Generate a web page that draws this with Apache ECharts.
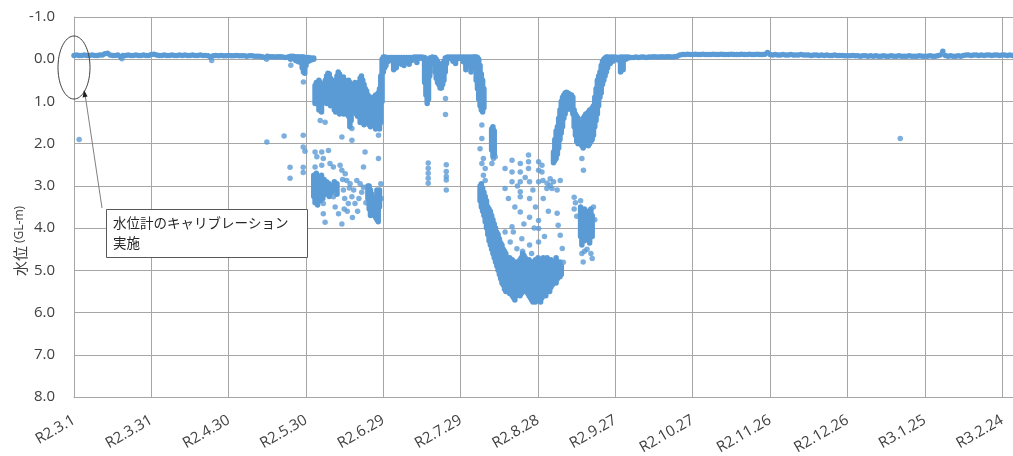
<!DOCTYPE html>
<html>
<head>
<meta charset="utf-8">
<script src="https://cdn.jsdelivr.net/npm/echarts@6.0.0/dist/echarts.min.js"></script>
<style>
  html, body { margin: 0; padding: 0; background: #ffffff; }
  #chart { width: 1013px; height: 456px; }
</style>
</head>
<body>
<div id="chart"></div>
<script>
// Groundwater level (GL-m) readings, R2.3.1 – R3.3.1.
// x = days elapsed since R2.3.1, y = depth below ground level (m).

const xTickLabels = ['R2.3.1', 'R2.3.31', 'R2.4.30', 'R2.5.30', 'R2.6.29', 'R2.7.29',
  'R2.8.28', 'R2.9.27', 'R2.10.27', 'R2.11.26', 'R2.12.26', 'R3.1.25', 'R3.2.24'];

// Daily level, day 0 .. day 83 (steady period)
const springLevel = [
  -0.09, -0.10, -0.09, -0.09, -0.10, -0.09, -0.09, -0.10, -0.09, -0.09,
  -0.10, -0.10, -0.13, -0.14, -0.10, -0.09, -0.09, -0.10, -0.06, -0.09,
  -0.09, -0.10, -0.09, -0.09, -0.10, -0.09, -0.09, -0.10, -0.09, -0.09,
  -0.11, -0.12, -0.10, -0.09, -0.09, -0.10, -0.09, -0.09, -0.10, -0.09,
  -0.09, -0.10, -0.09, -0.10, -0.09, -0.09, -0.10, -0.09, -0.09, -0.10,
  -0.09, -0.09, -0.08, -0.05, -0.08, -0.09, -0.08, -0.09, -0.08, -0.08,
  -0.09, -0.08, -0.08, -0.09, -0.08, -0.08, -0.08, -0.07, -0.08, -0.08,
  -0.07, -0.07, -0.07, -0.06, -0.04, -0.07, -0.06, -0.06, -0.05, -0.06,
  -0.06, -0.05, -0.04, -0.05
];

// Daily level, day 216 .. day 365 (recovered period)
const autumnLevel = [
  -0.04, -0.04, -0.05, -0.04, -0.05, -0.05, -0.04, -0.05, -0.05, -0.06,
  -0.05, -0.05, -0.06, -0.05, -0.06, -0.06, -0.05, -0.06, -0.07,
  -0.10, -0.11, -0.11, -0.12, -0.11, -0.11, -0.12, -0.11, -0.11, -0.12,
  -0.11, -0.11, -0.11, -0.12, -0.11, -0.11, -0.12, -0.11, -0.11, -0.11,
  -0.12, -0.11, -0.11, -0.11, -0.12, -0.11, -0.11, -0.12, -0.11, -0.11,
  -0.12, -0.11, -0.11, -0.12, -0.16,
  -0.11, -0.10, -0.11, -0.10, -0.10, -0.11, -0.10, -0.10, -0.11, -0.10,
  -0.10, -0.10, -0.11, -0.10, -0.10, -0.10, -0.09, -0.10, -0.10, -0.09,
  -0.10, -0.09, -0.10, -0.09, -0.09, -0.10, -0.09, -0.09, -0.09, -0.08,
  -0.08, -0.08, -0.09, -0.08, -0.08, -0.07, -0.08, -0.08, -0.07, -0.08,
  -0.07, -0.08, -0.07, -0.07, -0.08, -0.07, -0.07, -0.08, -0.07, -0.07,
  -0.08, -0.07, -0.07, -0.07, -0.08, -0.07, -0.07, -0.07, -0.08, -0.07,
  -0.07, -0.07, -0.08, -0.07, -0.07, -0.08, -0.10, -0.19, -0.09, -0.07,
  -0.08, -0.07, -0.07, -0.08, -0.07,
  -0.09, -0.10, -0.10, -0.09, -0.10, -0.10, -0.09, -0.10, -0.09, -0.10,
  -0.10, -0.09, -0.10, -0.10, -0.09, -0.10, -0.10, -0.09, -0.10, -0.09, -0.10
];
const autumnStartDay = 216;

// Dense reading bands: [day, shallowest, deepest]
const lateMayBand = [
  [84, -0.07, 0.00], [85, -0.07, -0.02], [86, -0.06, 0.03], [87, -0.06, 0.06],
  [88, -0.05, 0.08], [88.5, -0.05, 0.20], [89, -0.05, 0.30], [89.5, -0.04, 0.33],
  [90, -0.04, 0.15], [91, -0.04, 0.05], [92, -0.03, 0.02], [93, -0.03, 0.00]
];

const juneBand = [
  [93.5, 0.62, 1.05], [94, 0.55, 1.00], [94.5, 0.70, 1.05], [95, 0.50, 1.20],
  [95.5, 0.55, 1.10], [96, 0.70, 1.25], [96.5, 0.65, 1.00], [97, 0.60, 1.00],
  [97.5, 0.50, 1.00], [98, 0.40, 1.05], [98.5, 0.33, 1.00], [99, 0.35, 1.05],
  [99.5, 0.45, 1.10], [100, 0.50, 0.95], [100.5, 0.60, 1.10], [101, 0.55, 1.20],
  [101.5, 0.50, 1.25], [102, 0.40, 1.10], [102.5, 0.30, 1.20], [103, 0.35, 1.30],
  [103.5, 0.45, 1.25], [104, 0.50, 1.20], [104.5, 0.42, 1.30], [105, 0.50, 1.15],
  [105.5, 0.60, 1.30], [106, 0.70, 1.25], [106.5, 0.50, 1.35], [107, 0.55, 1.60],
  [107.5, 0.65, 1.45], [108, 0.75, 1.20], [108.5, 0.60, 1.10], [109, 0.55, 1.15],
  [109.5, 0.60, 1.30], [110, 0.70, 1.35], [110.5, 0.55, 1.20], [111, 0.45, 1.50],
  [111.5, 0.40, 1.45], [112, 0.50, 1.40], [112.5, 0.60, 1.55], [113, 0.70, 1.35],
  [113.5, 0.75, 1.30], [114, 0.85, 1.50], [114.5, 0.95, 1.55], [115, 0.90, 1.60],
  [115.5, 1.00, 1.55], [116, 0.90, 1.45], [116.5, 1.00, 1.50], [117, 0.85, 1.65],
  [117.5, 0.95, 1.60], [118, 0.80, 1.55], [118.5, 0.70, 1.65], [119, 0.40, 1.50],
  [119.5, 0.00, 1.00]
];

const juneDeepBand = [
  [93, 2.75, 3.25], [93.5, 2.80, 3.40], [94, 2.70, 3.30], [94.5, 2.85, 3.45],
  [95, 2.80, 3.25], [95.5, 2.90, 3.35], [96, 2.75, 3.20], [96.5, 2.90, 3.30],
  [97, 2.85, 3.15], [97.5, 2.95, 3.20], [98, 2.90, 3.10], [99, 2.95, 3.25],
  [100, 3.00, 3.15], [101, 2.90, 3.10], [102, 2.95, 3.20],
  [114, 3.00, 3.30], [114.5, 3.00, 3.55], [115, 3.10, 3.70], [115.5, 3.20, 3.60],
  [116, 3.30, 3.65], [116.5, 3.30, 3.70], [117, 3.40, 3.75], [117.5, 3.10, 3.80],
  [118, 3.20, 3.85], [118.5, 3.10, 3.50]
];

const julyBand = [
  [120, -0.05, 0.30], [120.5, -0.05, 0.20], [121, -0.04, 0.15], [122, -0.04, 0.05],
  [123, -0.04, -0.02], [124, -0.04, 0.25], [125, -0.04, 0.20], [126, -0.04, 0.02],
  [127, -0.04, 0.12], [128, -0.04, 0.15], [129, -0.04, 0.08], [130, -0.04, 0.12],
  [131, -0.04, 0.03], [132, -0.05, -0.03], [133, -0.05, 0.08], [134, -0.05, -0.03],
  [135, -0.05, -0.02], [136, -0.04, 0.55], [136.5, 0.00, 0.85], [137, 0.05, 1.05],
  [137.5, 0.10, 0.95], [138, -0.03, 0.40], [139, -0.05, 0.10], [140, -0.04, 0.30],
  [140.5, 0.00, 0.45], [141, 0.05, 0.55], [141.5, 0.10, 0.60], [142, 0.15, 0.68],
  [142.5, 0.15, 0.68], [143, 0.10, 0.60], [143.5, 0.05, 0.50], [144, -0.03, 0.30],
  [144.5, -0.04, 0.10], [145, -0.05, -0.02], [146, -0.05, -0.02], [147, -0.05, 0.05],
  [148, -0.05, 0.10], [149, -0.05, -0.02], [150, -0.05, -0.02], [151, -0.05, 0.06],
  [152, -0.05, 0.25], [153, -0.05, 0.15]
];

const augustBand = [
  [154, -0.05, 0.30], [155, -0.05, 0.10], [155.5, -0.05, 0.20], [156, -0.05, 0.50],
  [156.5, -0.04, 0.70], [157, 0.00, 0.95], [157.5, 0.15, 1.10], [158, 0.35, 1.20],
  [158.5, 0.50, 1.25], [159, 0.70, 1.15],
  [157.5, 3.00, 3.35], [158, 2.95, 3.50], [158.5, 3.05, 3.60], [159, 3.15, 3.70],
  [159.5, 3.25, 3.85], [160, 3.35, 4.00], [160.5, 3.50, 4.15], [161, 3.55, 4.30],
  [161.5, 3.60, 4.40], [162, 3.70, 4.50], [162.5, 3.80, 4.60], [163, 3.90, 4.70],
  [163.5, 4.00, 4.80], [164, 4.10, 4.90], [164.5, 4.15, 5.00], [165, 4.25, 5.10],
  [165.5, 4.35, 5.20], [166, 4.40, 5.30], [166.5, 4.50, 5.35], [167, 4.55, 5.45],
  [167.5, 4.60, 5.50],
  [162, 1.65, 2.15], [162.5, 1.60, 2.30], [163, 1.70, 2.25],
  [168, 4.70, 5.50], [168.5, 4.75, 5.45], [169, 4.70, 5.55], [169.5, 4.80, 5.50],
  [170, 4.75, 5.60], [170.5, 4.80, 5.65], [171, 4.85, 5.70], [171.5, 4.80, 5.60],
  [172, 4.85, 5.55], [172.5, 4.80, 5.50], [173, 4.75, 5.60], [173.5, 4.70, 5.55],
  [174, 4.60, 5.45], [174.5, 4.65, 5.50], [175, 4.70, 5.40], [175.5, 4.75, 5.50],
  [176, 4.80, 5.55], [176.5, 4.75, 5.60], [177, 4.80, 5.65], [177.5, 4.85, 5.70],
  [178, 4.80, 5.75], [178.5, 4.80, 5.70], [179, 4.75, 5.75], [179.5, 4.80, 5.70],
  [180, 4.70, 5.65], [180.5, 4.75, 5.70], [181, 4.80, 5.75], [181.5, 4.75, 5.65],
  [182, 4.70, 5.60], [182.5, 4.80, 5.55], [183, 4.75, 5.60], [183.5, 4.70, 5.50],
  [184, 4.75, 5.45], [184.5, 4.80, 5.50], [185, 4.75, 5.40], [185.5, 4.80, 5.35],
  [186, 4.90, 5.30], [186.5, 4.85, 5.25], [187, 4.70, 5.30], [187.5, 4.80, 5.20],
  [188, 4.90, 5.10], [188.5, 4.80, 5.15], [189, 4.90, 5.10]
];

const septemberBand = [
  [186, 2.20, 2.45], [186.5, 1.90, 2.40], [187, 1.70, 2.35], [187.5, 1.60, 2.25],
  [188, 1.40, 2.10], [188.5, 1.20, 1.90], [189, 1.00, 1.75], [189.5, 0.90, 1.60],
  [190, 0.85, 1.40], [190.5, 0.80, 1.30], [191, 0.78, 1.20], [191.5, 0.80, 1.10],
  [192, 0.82, 1.15], [192.5, 0.85, 1.10], [193, 0.85, 1.20], [193.5, 0.90, 1.30],
  [194, 1.20, 1.60], [194.5, 1.30, 1.80], [195, 1.35, 1.95], [195.5, 1.40, 2.00],
  [196, 1.50, 1.90], [196.5, 1.60, 2.00], [197, 1.55, 2.05], [197.5, 1.40, 2.10],
  [198, 1.35, 2.05], [198.5, 1.30, 2.00], [199, 1.30, 1.95], [199.5, 1.25, 2.05],
  [200, 1.20, 2.00], [200.5, 1.25, 1.95], [201, 1.15, 1.90], [201.5, 1.10, 1.80],
  [202, 0.90, 1.60], [202.5, 0.70, 1.45], [203, 0.50, 1.30], [203.5, 0.40, 1.10],
  [204, 0.30, 0.90], [204.5, 0.15, 0.80], [205, 0.05, 0.60], [205.5, 0.00, 0.50],
  [206, -0.03, 0.40], [206.5, -0.05, 0.30], [207, -0.05, 0.20], [208, -0.05, 0.10],
  [209, -0.05, 0.05], [210, -0.05, 0.00], [211, -0.04, 0.02], [212, -0.05, 0.30],
  [213, -0.05, 0.25], [214, -0.05, 0.00], [215, -0.05, -0.03],
  [196.5, 3.50, 4.20], [197, 3.60, 4.40], [197.5, 3.70, 4.10], [198, 3.55, 4.30],
  [199.5, 3.60, 4.10], [200, 3.65, 4.35], [200.5, 3.55, 4.00], [201, 3.70, 4.20]
];

// Isolated readings: [day, level]
const strayReadings = [
  [2, 1.90], [18.6, -0.01], [53.4, 0.03], [74.7, 0.00], [74.8, 1.96], [81.5, 1.82],
  [83.8, 2.56], [83.8, 2.82], [84.1, 0.14], [88.9, 1.80], [88.9, 2.08], [89.6, 2.18],
  [88.9, 2.56], [88.9, 2.68], [89, 0.54], [320.5, 1.88]
];

const juneScatter = [
  [93.5, 2.20], [96.1, 2.20], [94.2, 2.31], [96.7, 2.35], [98.7, 2.16], [93.5, 2.55],
  [96.1, 2.51], [99.3, 2.47], [100.6, 2.55], [103.2, 2.51], [103.9, 2.63],
  [94.2, 3.34], [96.7, 3.42], [96.7, 3.66], [97.4, 3.86], [100.6, 3.26], [101.3, 3.50],
  [102.6, 3.66], [103.9, 3.90], [105.2, 2.71], [105.8, 2.87], [107.1, 2.95],
  [107.8, 3.26], [106.4, 3.42], [109.0, 3.42], [109.7, 2.87], [112.3, 3.03],
  [112.9, 2.20], [112.3, 2.55], [118.1, 2.35], [107.8, 1.92], [95.5, 1.45],
  [97.4, 1.49], [103.9, 1.84], [107.8, 1.64], [112.9, 1.52], [118.1, 1.80],
  [104.5, 3.10], [105.0, 3.30], [106.0, 3.60], [108.5, 3.10], [110.5, 3.30],
  [111.0, 2.95], [108.0, 3.75], [104.8, 3.55], [110.0, 3.60], [104.2, 2.85],
  [106.8, 3.05], [111.6, 3.15], [113.2, 3.40], [119.0, 2.95], [119.2, 3.30]
];

const julyScatter = [
  [137.4, 2.46], [137.4, 2.58], [137.4, 2.70], [137.4, 2.82], [137.4, 2.94],
  [144.4, 2.50], [144.4, 2.66], [144.4, 2.78], [144.4, 2.86], [144.4, 3.10],
  [144.1, 0.93], [144.1, 1.31]
];

const augustScatter = [
  [167.2, 2.59], [167.2, 3.06], [169.9, 2.39], [169.9, 2.67], [169.9, 2.90], [169.9, 3.97],
  [170.4, 4.09], [173.1, 2.47], [173.1, 2.67], [173.1, 2.90], [173.1, 3.14], [173.1, 3.26],
  [173.1, 3.62], [173.7, 4.25], [176.3, 2.27], [176.3, 2.43], [176.3, 2.59], [176.7, 2.90],
  [176.7, 3.30], [176.7, 3.74], [176.7, 4.40], [180.2, 2.43], [180.2, 2.63], [180.2, 2.90],
  [180.2, 3.82], [180.2, 4.01], [180.2, 4.33], [181.5, 2.51], [181.5, 2.67], [184.7, 2.99],
  [184.7, 2.83], [186.0, 2.90], [183.4, 3.06], [185.4, 3.06], [167.2, 4.09], [169.2, 4.33],
  [171.8, 4.49], [158.2, 1.56], [158.2, 1.88], [157.5, 2.12], [158.8, 2.35], [158.2, 2.47],
  [159.5, 2.59], [158.8, 2.75], [159.5, 2.87], [162.7, 1.68], [162.7, 2.35], [163.4, 2.31],
  [162.1, 2.47], [181.9, 2.87], [183.5, 2.94], [187.4, 3.10], [188.6, 2.87], [187.4, 3.65],
  [187.8, 3.93], [188.6, 4.17], [189.4, 4.48], [189.8, 4.81], [168.5, 3.30], [171.0, 3.50],
  [172.0, 3.00], [174.5, 3.90], [175.0, 2.80], [178.0, 3.10], [178.5, 4.00], [179.0, 3.50],
  [182.0, 3.30], [182.5, 4.20], [184.0, 3.60], [177.5, 4.60], [174.0, 4.55]
];

const septemberScatter = [
  [194.0, 3.27], [194.5, 3.40], [194.0, 3.55], [195.0, 3.72], [197.0, 4.60], [197.5, 4.80],
  [198.0, 4.55], [196.5, 3.35], [199.0, 4.50], [200.5, 4.60], [201.0, 4.72], [201.5, 3.50],
  [202.0, 3.80], [197.6, 2.63], [197.0, 2.35]
];

const BLUE = '#5b9bd5';
const DOT = 5.5;

// Single daily readings become zero-height bands
const levelBand = (levels, startDay) => levels.map((v, i) => [startDay + i, v, v]);

const bandData = [].concat(
  levelBand(springLevel, 0),
  lateMayBand, juneBand, juneDeepBand, julyBand, augustBand, septemberBand,
  levelBand(autumnLevel, autumnStartDay)
);
const dotData = [].concat(strayReadings, juneScatter, julyScatter, augustScatter, septemberScatter);

function renderBand(params, api) {
  const a = api.coord([api.value(0), api.value(1)]);
  const b = api.coord([api.value(0), api.value(2)]);
  const top = Math.min(a[1], b[1]) - DOT / 2;
  const h = Math.abs(b[1] - a[1]) + DOT;
  return {
    type: 'rect',
    shape: { x: a[0] - DOT / 2, y: top, width: DOT, height: h, r: DOT / 2 },
    style: { fill: BLUE }
  };
}

// Ellipse outline marking the calibration point
const ellipsePts = [];
for (let k = 0; k <= 72; k++) {
  const t = (k / 72) * Math.PI * 2;
  ellipsePts.push([74 + 16 * Math.cos(t), 67.5 + 31.5 * Math.sin(t)]);
}

const chart = echarts.init(document.getElementById('chart'), null, { renderer: 'canvas' });
chart.setOption({
  animation: false,
  backgroundColor: '#ffffff',
  grid: { left: 74, top: 17, width: 941, height: 380, containLabel: false, outerBoundsMode: 'none' },
  xAxis: {
    type: 'value',
    min: 0,
    max: 365,
    interval: 30,
    axisLine: { onZero: false, lineStyle: { color: '#a6a6a6', width: 1 } },
    axisTick: { show: false },
    splitLine: { show: true, lineStyle: { color: '#a6a6a6', width: 1 } },
    axisLabel: {
      rotate: 30,
      margin: 22,
      showMaxLabel: false,
      color: '#404040',
      fontFamily: 'Open Sans',
      fontSize: 15,
      formatter: (v) => xTickLabels[Math.round(v / 30)] || ''
    }
  },
  yAxis: {
    type: 'value',
    inverse: true,
    min: -1,
    max: 8,
    interval: 1,
    axisLine: { show: true, lineStyle: { color: '#a6a6a6', width: 1 } },
    axisTick: { show: false },
    splitLine: { show: true, lineStyle: { color: '#a6a6a6', width: 1 } },
    axisLabel: {
      margin: 19,
      color: '#404040',
      fontFamily: 'Open Sans',
      fontSize: 15,
      formatter: (v) => v.toFixed(1)
    }
  },
  series: [
    {
      type: 'custom',
      name: 'band',
      renderItem: renderBand,
      encode: { x: 0, y: [1, 2] },
      data: bandData,
      z: 2
    },
    {
      type: 'scatter',
      name: 'dots',
      symbol: 'circle',
      symbolSize: DOT,
      itemStyle: { color: BLUE },
      data: dotData,
      z: 3
    }
  ],
  graphic: [
    {
      type: 'text',
      x: 20, y: 241,
      rotation: Math.PI / 2,
      style: {
        text: '{a|水位}{b| (GL-m)}',
        rich: {
          a: { fontFamily: 'Noto Sans CJK JP', fontSize: 15, fill: '#404040' },
          b: { fontFamily: 'Open Sans', fontSize: 12, fill: '#404040' }
        },
        align: 'center',
        verticalAlign: 'middle'
      }
    },
    {
      type: 'polygon',
      shape: { points: ellipsePts },
      style: { fill: 'none', stroke: '#404040', lineWidth: 1 },
      z: 10
    },
    {
      type: 'line',
      shape: { x1: 102, y1: 208, x2: 85, y2: 94 },
      style: { stroke: '#808080', lineWidth: 1 },
      z: 10
    },
    {
      type: 'polygon',
      shape: { points: [[84, 90], [87.6, 96.6], [82.6, 97.4]] },
      style: { fill: '#202020' },
      z: 10
    },
    {
      type: 'rect',
      shape: { x: 106.5, y: 209.5, width: 201, height: 48 },
      style: { fill: '#ffffff', stroke: '#595959', lineWidth: 1 },
      z: 10
    },
    {
      type: 'text',
      x: 113, y: 223,
      style: {
        text: '水位計のキャリブレーション',
        fontFamily: 'Noto Sans CJK JP',
        fontSize: 13.5,
        fill: '#262626',
        verticalAlign: 'middle'
      },
      z: 11
    },
    {
      type: 'text',
      x: 113, y: 243,
      style: {
        text: '実施',
        fontFamily: 'Noto Sans CJK JP',
        fontSize: 13.5,
        fill: '#262626',
        verticalAlign: 'middle'
      },
      z: 11
    }
  ]
});
</script>
</body>
</html>
